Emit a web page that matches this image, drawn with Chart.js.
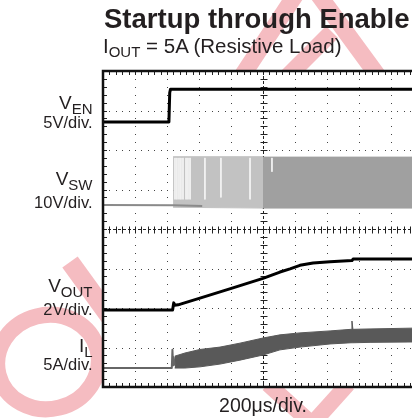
<!DOCTYPE html>
<html lang="en">
<head>
  <meta charset="UTF-8">
  <title>Startup through Enable</title>
  <style>
    body { margin: 0; background: white; }
    #wrap { position: relative; width: 412px; height: 418px; overflow: hidden; font-family: "Liberation Sans", Arial, sans-serif; color: #231f20; }
    #wrap canvas { position: absolute; left: 0; top: 0; }
    .t { position: absolute; line-height: 1; white-space: nowrap; }
    .lbl { right: 319.5px; text-align: right; }
    .sub { position: relative; top: 5px; }
  </style>
</head>
<body>
  <div id="wrap">
    <canvas id="scope" width="412" height="418"></canvas>
    <div class="t" style="left:104px; top:5px; font-size:27.5px; font-weight:bold;">Startup through Enable</div>
    <div class="t" style="left:103px; top:36px; font-size:20.5px;">I<span style="font-size:15px; position:relative; top:4px;">OUT</span> = 5A (Resistive Load)</div>

    <div class="t lbl" style="top:93px; font-size:19px;">V<span class="sub" style="font-size:15px;">EN</span></div>
    <div class="t lbl" style="top:114px; font-size:16.5px;">5V/div.</div>
    <div class="t lbl" style="top:169px; font-size:19px;">V<span class="sub" style="font-size:15px;">SW</span></div>
    <div class="t lbl" style="top:194px; font-size:16.5px;">10V/div.</div>
    <div class="t lbl" style="top:275.5px; font-size:19px;">V<span class="sub" style="font-size:15px;">OUT</span></div>
    <div class="t lbl" style="top:301px; font-size:16.5px;">2V/div.</div>
    <div class="t lbl" style="top:335.5px; font-size:19px;">I<span class="sub" style="font-size:15px;">L</span></div>
    <div class="t lbl" style="top:356px; font-size:16.5px;">5A/div.</div>

    <div class="t" style="left:163px; width:200px; text-align:center; top:395.5px; font-size:19.5px;">200μs/div.</div>
  </div>

  <script src="https://cdn.jsdelivr.net/npm/chart.js"></script>
  <script>
    // time in µs (200µs/div, trigger at 0), levels in screen divisions (-4..4)
    const venT = [-1000, -588, -583, -578, 931.25];
    const venY = [2.71, 2.71, 3.45, 3.54, 3.54];

    const vswBaseT = [-1000, -560, -380];
    const vswBaseY = [0.61, 0.60, 0.58];
    const vswLightT = [-562, 0];
    const vswLightHi = [1.83, 1.83];
    const vswLightLo = [0.55, 0.53];
    const vswDarkT = [-6, 931.25];
    const vswDarkHi = [1.82, 1.82];
    const vswDarkLo = [0.53, 0.53];
    // missing switching edges (white streaks in the VSW band)
    const vswGapT = [-550, -538, -525, -513, -500, -481, -469, -456, -363, -263, -81, 56];
    const vswGapLo = [0.75, 0.75, 0.75, 0.75, 0.75, 0.75, 0.75, 0.75, 0.75, 0.8, 0.75, 1.45];

    const voutT = [-1000, -565, -558, -552, -531, -394, -188, 0, 106, 169, 231, 313, 419, 556, 563, 931.25];
    const voutY = [-2.05, -2.05, -1.87, -1.93, -1.92, -1.75, -1.49, -1.25, -1.09, -1.01, -0.92, -0.86, -0.83, -0.80, -0.76, -0.76];

    const ilBaseT = [-1000, -570, -566, -562, -558, -552];
    const ilBaseY = [-3.52, -3.52, -3.06, -3.45, -3.25, -3.45];
    const ilT = [-552, -488, -394, -269, -144, 0, 106, 231, 419, 550, 556, 562, 669, 931.25];
    const ilHi = [-3.22, -3.14, -3.05, -2.99, -2.89, -2.76, -2.68, -2.63, -2.58, -2.54, -2.33, -2.54, -2.53, -2.51];
    const ilLo = [-3.52, -3.52, -3.49, -3.42, -3.32, -3.19, -3.06, -2.99, -2.91, -2.88, -2.88, -2.88, -2.87, -2.86];

    function pts(t, v) {
      return t.map((x, i) => ({ x: x, y: v[i] }));
    }

    // vertical streaks, broken apart by null points
    function streaks(t, lo, top) {
      const out = [];
      t.forEach((x, i) => { out.push({ x: x, y: top }, { x: x, y: lo[i] }, { x: x, y: null }); });
      return out;
    }

    function trace(data, color, width) {
      return { data: data, borderColor: color, borderWidth: width, fill: false, borderJoinStyle: 'round' };
    }

    function band(data, color, fill) {
      return { data: data, borderColor: color, backgroundColor: color, borderWidth: 1, fill: fill };
    }

    // pink logo behind the page, plot area kept white
    const watermark = {
      id: 'watermark',
      beforeDraw(chart) {
        const ctx = chart.ctx;
        const a = chart.chartArea;
        ctx.save();
        ctx.strokeStyle = '#f5bcc1';
        const stroke = (x1, y1, x2, y2, w) => {
          ctx.lineWidth = w;
          ctx.beginPath(); ctx.moveTo(x1, y1); ctx.lineTo(x2, y2); ctx.stroke();
        };
        stroke(296, -6, 242, 76, 17);
        stroke(318, -6, 378, 76, 17);
        stroke(288, 76, 332, 32, 17);
        stroke(70, 262, 112, 320, 19);
        stroke(268, 384, 312, 424, 16);
        stroke(348, 384, 312, 424, 16);
        ctx.lineWidth = 16;
        ctx.beginPath();
        ctx.ellipse(48, 362, 51, 47, -0.25, 0, Math.PI * 2);
        ctx.stroke();
        ctx.fillStyle = '#fff';
        ctx.fillRect(a.left, a.top, a.right - a.left, a.bottom - a.top);
        ctx.restore();
      }
    };

    // scope graticule: dotted divisions, centre cross with minor ticks
    const graticule = {
      id: 'graticule',
      beforeDatasetsDraw(chart) {
        const { ctx, chartArea: a, scales: { x, y } } = chart;
        ctx.save();
        ctx.fillStyle = '#444';
        for (let k = -4; k <= 4; k++) {
          if (k === 0) continue;
          const px = Math.round(x.getPixelForValue(k * 200));
          for (let s = -19; s <= 19; s++) ctx.fillRect(px, Math.round(y.getPixelForValue(s * 0.2)), 1, 1);
        }
        for (let k = -3; k <= 3; k++) {
          if (k === 0) continue;
          const py = Math.round(y.getPixelForValue(k));
          for (let s = -24; s <= 23; s++) ctx.fillRect(Math.round(x.getPixelForValue(s * 40)), py, 1, 1);
        }
        const cx = Math.round(x.getPixelForValue(0)) + 0.5;
        const cy = Math.round(y.getPixelForValue(0)) + 0.5;
        ctx.strokeStyle = '#222';
        ctx.lineWidth = 1;
        ctx.setLineDash([3, 2]);
        ctx.beginPath();
        ctx.moveTo(cx, a.top); ctx.lineTo(cx, a.bottom);
        ctx.moveTo(a.left, cy); ctx.lineTo(a.right, cy);
        ctx.stroke();
        ctx.setLineDash([]);
        ctx.beginPath();
        for (let s = -19; s <= 19; s++) {
          const py = Math.round(y.getPixelForValue(s * 0.2)) + 0.5;
          ctx.moveTo(cx - 3, py); ctx.lineTo(cx + 4, py);
          ctx.moveTo(a.left, py); ctx.lineTo(a.left + 4, py);
        }
        for (let s = -24; s <= 23; s++) {
          const px = Math.round(x.getPixelForValue(s * 40)) + 0.5;
          ctx.moveTo(px, cy - 3); ctx.lineTo(px, cy + 4);
          ctx.moveTo(px, a.top); ctx.lineTo(px, a.top + 4);
          ctx.moveTo(px, a.bottom - 4); ctx.lineTo(px, a.bottom);
        }
        ctx.stroke();
        ctx.restore();
      },
      afterDatasetsDraw(chart) {
        const { ctx, chartArea: a } = chart;
        ctx.save();
        ctx.strokeStyle = '#111';
        ctx.lineWidth = 2.5;
        ctx.beginPath();
        ctx.moveTo(a.right + 2, a.top);
        ctx.lineTo(a.left, a.top);
        ctx.lineTo(a.left, a.bottom);
        ctx.lineTo(a.right + 2, a.bottom);
        ctx.stroke();
        ctx.restore();
      }
    };

    new Chart(document.getElementById('scope'), {
      type: 'line',
      data: {
        datasets: [
          trace(pts(venT, venY), '#000', 3),
          trace(pts(voutT, voutY), '#000', 3),
          trace(pts(ilBaseT, ilBaseY), '#666', 2),
          trace(pts(vswBaseT, vswBaseY), '#8a8a8a', 2),
          Object.assign(trace(streaks(vswGapT, vswGapLo, 1.8), '#f4f4f4', 1), { spanGaps: false }),
          band(pts(vswLightT, vswLightHi), '#c2c2c2', '+1'),
          band(pts(vswLightT, vswLightLo), '#c2c2c2', false),
          band(pts(vswDarkT, vswDarkHi), '#a0a0a0', '+1'),
          band(pts(vswDarkT, vswDarkLo), '#a0a0a0', false),
          band(pts(ilT, ilHi), '#595959', '+1'),
          band(pts(ilT, ilLo), '#595959', false)
        ]
      },
      options: {
        responsive: false,
        animation: false,
        layout: { padding: { left: 103, top: 71, right: 0, bottom: 31 } },
        elements: { point: { radius: 0 }, line: { tension: 0 } },
        plugins: { legend: { display: false }, tooltip: { enabled: false } },
        scales: {
          x: { type: 'linear', min: -1000, max: 931.25, display: false },
          y: { type: 'linear', min: -4, max: 4, display: false }
        }
      },
      plugins: [watermark, graticule]
    });
  </script>
</body>
</html>
